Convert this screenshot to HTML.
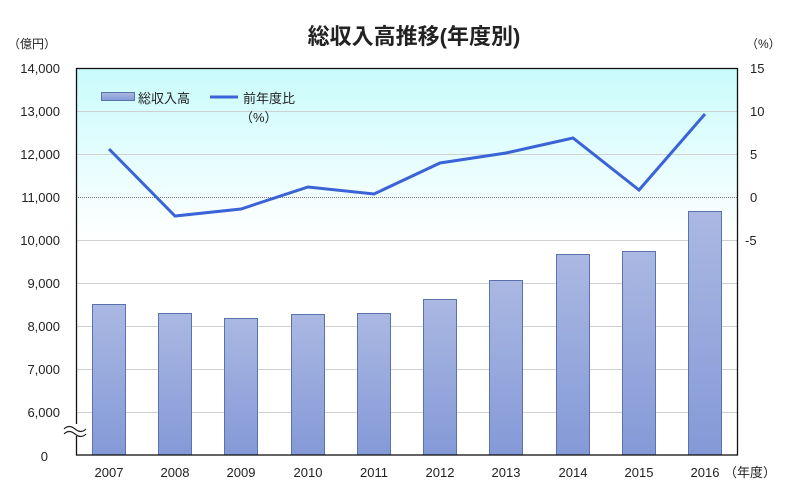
<!DOCTYPE html>
<html><head><meta charset="utf-8"><style>
html,body{margin:0;padding:0;background:#fff;}
svg{display:block;font-family:"Liberation Sans","Noto Sans CJK JP",sans-serif;}
</style></head><body>
<svg width="794" height="494" viewBox="0 0 794 494" xmlns="http://www.w3.org/2000/svg">
<defs>
<linearGradient id="bg" x1="0" y1="0" x2="0" y2="1">
<stop offset="0" stop-color="#c9fbfc"/><stop offset="0.44" stop-color="#ffffff"/><stop offset="1" stop-color="#ffffff"/>
</linearGradient>
<linearGradient id="bar" x1="0" y1="0" x2="0" y2="1">
<stop offset="0" stop-color="#aab8e2"/><stop offset="1" stop-color="#8499d7"/>
</linearGradient>
</defs>
<text x="414" y="44" font-size="22" font-weight="bold" text-anchor="middle" fill="#222">総収入高推移(年度別)</text>
<text x="8" y="48" font-size="12" fill="#222">（億円）</text>
<text x="746" y="48" font-size="12" fill="#222">（%）</text>
<rect x="76" y="68" width="662" height="387" fill="url(#bg)"/>
<g stroke="#d0d0d0" stroke-width="1">
<line x1="76" y1="111.5" x2="738" y2="111.5"/><line x1="76" y1="154.5" x2="738" y2="154.5"/>
<line x1="76" y1="240.5" x2="738" y2="240.5"/><line x1="76" y1="283.5" x2="738" y2="283.5"/>
<line x1="76" y1="326.5" x2="738" y2="326.5"/><line x1="76" y1="369.5" x2="738" y2="369.5"/>
<line x1="76" y1="412.5" x2="738" y2="412.5"/>
</g>
<line x1="76" y1="197.5" x2="738" y2="197.5" stroke="#777" stroke-width="1" stroke-dasharray="1,1"/>
<g fill="url(#bar)" stroke="#5a72ad" stroke-width="1">
<rect x="92.5" y="304.5" width="33" height="150.5"/>
<rect x="158.5" y="313.5" width="33" height="141.5"/>
<rect x="224.5" y="318.5" width="33" height="136.5"/>
<rect x="291.5" y="314.5" width="33" height="140.5"/>
<rect x="357.5" y="313.5" width="33" height="141.5"/>
<rect x="423.5" y="299.5" width="33" height="155.5"/>
<rect x="489.5" y="280.5" width="33" height="174.5"/>
<rect x="556.5" y="254.5" width="33" height="200.5"/>
<rect x="622.5" y="251.5" width="33" height="203.5"/>
<rect x="688.5" y="211.5" width="33" height="243.5"/>
</g>
<polyline fill="none" stroke="#3a63d6" stroke-width="3" stroke-linejoin="miter" points="109,149 175,216 241,209 308,187 374,194 440,163 506,153 573,138 639,190 705,114"/>
<rect x="76.5" y="68.5" width="661" height="386.5" fill="none" stroke="#111" stroke-width="1.3"/>
<!-- break mark -->
<rect x="62" y="424" width="28" height="12" fill="#fff"/>
<path d="M64,429 q5,-5 11,0 t11,0 M64,434 q5,-5 11,0 t11,0" fill="none" stroke="#222" stroke-width="1.2"/>
<g font-size="13" fill="#222" text-anchor="end">
<text x="60" y="73">14,000</text><text x="60" y="116">13,000</text><text x="60" y="159">12,000</text>
<text x="60" y="202">11,000</text><text x="60" y="245">10,000</text><text x="60" y="288">9,000</text>
<text x="60" y="331">8,000</text><text x="60" y="374">7,000</text><text x="60" y="417">6,000</text>
<text x="48" y="461">0</text>
</g>
<g font-size="13" fill="#222">
<text x="750" y="73">15</text><text x="750" y="116">10</text><text x="750" y="159">5</text>
<text x="750" y="202">0</text><text x="745" y="245">-5</text>
</g>
<g font-size="13" fill="#222" text-anchor="middle">
<text x="109" y="477">2007</text><text x="175" y="477">2008</text><text x="241" y="477">2009</text>
<text x="308" y="477">2010</text><text x="374" y="477">2011</text><text x="440" y="477">2012</text>
<text x="506" y="477">2013</text><text x="573" y="477">2014</text><text x="639" y="477">2015</text>
<text x="705" y="477">2016</text>
</g>
<text x="724" y="477" font-size="13" fill="#222">（年度）</text>
<rect x="101.5" y="92.5" width="33" height="8" fill="url(#bar)" stroke="#5a72ad"/>
<text x="138" y="103" font-size="13" fill="#222">総収入高</text>
<line x1="210" y1="97" x2="238" y2="97" stroke="#3a63d6" stroke-width="3"/>
<text x="243" y="103" font-size="13" fill="#222">前年度比</text>
<text x="240" y="122" font-size="13" fill="#222">（%）</text>
</svg>
</body></html>
